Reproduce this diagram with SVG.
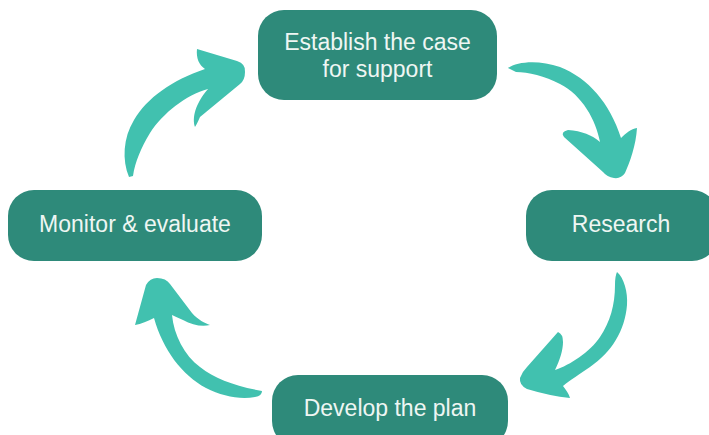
<svg xmlns="http://www.w3.org/2000/svg" width="709" height="435" viewBox="0 0 709 435">
<style>
.box{fill:#2e8a7a}
.lbl{fill:#eef6f3;font-family:"Liberation Sans",Arial,sans-serif;font-size:23px;text-anchor:middle}
.arr{fill:#41c1af}
</style>
<rect width="709" height="435" fill="#ffffff"/>
<g id="connectors">
<path id="arrow-monitor-establish" class="arr" d="M129,177 C122,160 123,138 134,120 C147,98 172,80 205,69 C199,65 196,58 197,49 L237,61 Q246,64 245,72 Q245,80 240,84 L200,117 Q197,124 195,127 C192,118 195,104 208,89 C186,95 163,113 150,133 C141,148 135,162 133,176 Z"/>
<path id="arrow-establish-research" class="arr" d="M508,68 C518,61 540,60 560,67 C588,78 610,103 621,138 C626,133 631,129 637,128 C636,145 630,162 625,173 Q621,179 614,178 Q607,177 603,172 L564,137 Q560,132 568,130 C582,131 592,135 600,142 C596,120 582,95 560,84 C545,76 528,72 516,72 Z"/>
<path id="arrow-research-develop" class="arr" d="M617,272 C624,278 628,292 627,305 C625,330 612,352 590,367 C580,374 570,380 563,386 C566,390 569,394 570,398 Q550,396 527,389 Q519,385 520,378 Q522,372 527,367 L558,332 Q563,334 563,342 C563,350 560,360 555,370 C570,365 590,352 600,337 C610,322 615,305 615,285 Q615,276 617,272 Z"/>
<path id="arrow-develop-monitor" class="arr" d="M262,391 Q262,396 255,397 C240,400 222,396 206,388 C182,375 163,350 154,318 C148,321 141,324 135,325 L146,285 Q150,278 157,278 Q166,278 170,284 L192,313 C198,320 205,323 210,325 C202,327 192,325 183,320 Q176,317 172,315 C174,335 184,355 200,367 C215,379 235,386 262,391 Z"/>
</g>
<g id="node-establish">
<rect class="box" x="258" y="10" width="239" height="90" rx="26"/>
<text class="lbl" x="377.5" y="50">Establish the case</text>
<text class="lbl" x="377.5" y="77">for support</text>
</g>
<g id="node-research">
<rect class="box" x="526" y="190" width="192" height="71" rx="26"/>
<text class="lbl" x="621" y="232">Research</text>
</g>
<g id="node-develop">
<rect class="box" x="272" y="375" width="236" height="72" rx="26"/>
<text class="lbl" x="390" y="416">Develop the plan</text>
</g>
<g id="node-monitor">
<rect class="box" x="8" y="190" width="254" height="71" rx="26"/>
<text class="lbl" x="135" y="232">Monitor &amp; evaluate</text>
</g>
</svg>
